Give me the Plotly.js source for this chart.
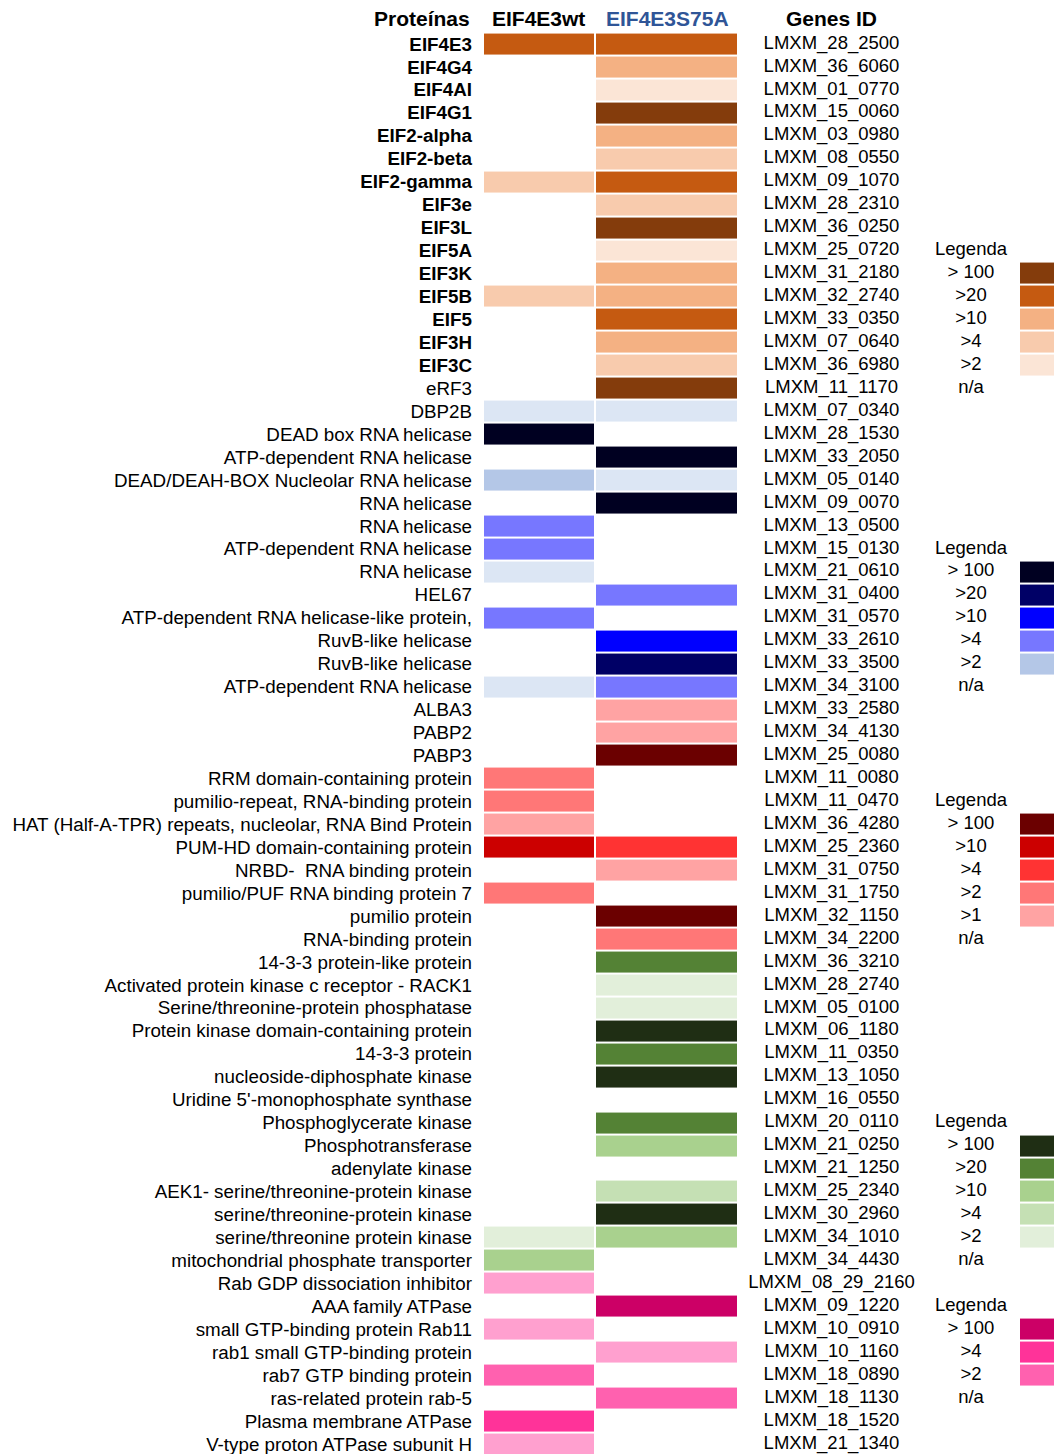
<!DOCTYPE html>
<html>
<head>
<meta charset="utf-8">
<script src="https://cdn.plot.ly/plotly-3.0.1.min.js"></script>
<style>
  html, body { margin: 0; padding: 0; background: #ffffff; }
  #chart { width: 1054px; height: 1454px; }
</style>
</head>
<body>
<div id="chart"></div>
<script>
// Protein names, one per row (top to bottom)
const proteins = [
  'EIF4E3', 'EIF4G4', 'EIF4AI', 'EIF4G1', 'EIF2-alpha', 'EIF2-beta', 'EIF2-gamma', 'EIF3e',
  'EIF3L', 'EIF5A', 'EIF3K', 'EIF5B', 'EIF5', 'EIF3H', 'EIF3C', 'eRF3',
  'DBP2B', 'DEAD box RNA helicase', 'ATP-dependent RNA helicase', 'DEAD/DEAH-BOX Nucleolar RNA helicase',
  'RNA helicase', 'RNA helicase', 'ATP-dependent RNA helicase', 'RNA helicase', 'HEL67',
  'ATP-dependent RNA helicase-like protein,', 'RuvB-like helicase', 'RuvB-like helicase', 'ATP-dependent RNA helicase',
  'ALBA3', 'PABP2', 'PABP3', 'RRM domain-containing protein', 'pumilio-repeat, RNA-binding protein',
  'HAT (Half-A-TPR) repeats, nucleolar, RNA Bind Protein', 'PUM-HD domain-containing protein',
  'NRBD-  RNA binding protein', 'pumilio/PUF RNA binding protein 7', 'pumilio protein', 'RNA-binding protein',
  '14-3-3 protein-like protein', 'Activated protein kinase c receptor - RACK1', 'Serine/threonine-protein phosphatase',
  'Protein kinase domain-containing protein', '14-3-3 protein', 'nucleoside-diphosphate kinase',
  "Uridine 5'-monophosphate synthase", 'Phosphoglycerate kinase', 'Phosphotransferase', 'adenylate kinase',
  'AEK1- serine/threonine-protein kinase', 'serine/threonine-protein kinase', 'serine/threonine protein kinase',
  'mitochondrial phosphate transporter', 'Rab GDP dissociation inhibitor', 'AAA family ATPase',
  'small GTP-binding protein Rab11', 'rab1 small GTP-binding protein', 'rab7 GTP binding protein',
  'ras-related protein rab-5', 'Plasma membrane ATPase', 'V-type proton ATPase subunit H'
];

// Translation factors are printed in bold
const boldProteins = [
  'EIF4E3', 'EIF4G4', 'EIF4AI', 'EIF4G1', 'EIF2-alpha', 'EIF2-beta', 'EIF2-gamma', 'EIF3e',
  'EIF3L', 'EIF5A', 'EIF3K', 'EIF5B', 'EIF5', 'EIF3H', 'EIF3C'
];

// Gene identifiers, one per row
const genes = [
  'LMXM_28_2500', 'LMXM_36_6060', 'LMXM_01_0770', 'LMXM_15_0060', 'LMXM_03_0980', 'LMXM_08_0550',
  'LMXM_09_1070', 'LMXM_28_2310', 'LMXM_36_0250', 'LMXM_25_0720', 'LMXM_31_2180', 'LMXM_32_2740',
  'LMXM_33_0350', 'LMXM_07_0640', 'LMXM_36_6980', 'LMXM_11_1170', 'LMXM_07_0340', 'LMXM_28_1530',
  'LMXM_33_2050', 'LMXM_05_0140', 'LMXM_09_0070', 'LMXM_13_0500', 'LMXM_15_0130', 'LMXM_21_0610',
  'LMXM_31_0400', 'LMXM_31_0570', 'LMXM_33_2610', 'LMXM_33_3500', 'LMXM_34_3100', 'LMXM_33_2580',
  'LMXM_34_4130', 'LMXM_25_0080', 'LMXM_11_0080', 'LMXM_11_0470', 'LMXM_36_4280', 'LMXM_25_2360',
  'LMXM_31_0750', 'LMXM_31_1750', 'LMXM_32_1150', 'LMXM_34_2200', 'LMXM_36_3210', 'LMXM_28_2740',
  'LMXM_05_0100', 'LMXM_06_1180', 'LMXM_11_0350', 'LMXM_13_1050', 'LMXM_16_0550', 'LMXM_20_0110',
  'LMXM_21_0250', 'LMXM_21_1250', 'LMXM_25_2340', 'LMXM_30_2960', 'LMXM_34_1010', 'LMXM_34_4430',
  'LMXM_08_29_2160', 'LMXM_09_1220', 'LMXM_10_0910', 'LMXM_10_1160', 'LMXM_18_0890', 'LMXM_18_1130',
  'LMXM_18_1520', 'LMXM_21_1340'
];

// Functional family of each row (selects the colour ramp)
const families = [
  'eif','eif','eif','eif','eif','eif','eif','eif','eif','eif','eif','eif','eif','eif','eif','eif',
  'hel','hel','hel','hel','hel','hel','hel','hel','hel','hel','hel','hel','hel',
  'rbp','rbp','rbp','rbp','rbp','rbp','rbp','rbp','rbp','rbp','rbp',
  'kin','kin','kin','kin','kin','kin','kin','kin','kin','kin','kin','kin','kin','kin',
  'gtp','gtp','gtp','gtp','gtp','gtp','gtp','gtp'
];

// Enrichment class in the EIF4E3wt pull-down (null = not detected)
const wtLevels = [
  '>20', null, null, null, null, null, '>4', null, null, null, null, '>4', null, null, null, null,
  '>1', '>100', null, '>2', null, '>4', '>4', '>1', null, '>4', null, null, '>1',
  null, null, null, '>2', '>2', '>1', '>10', null, '>2', null, null,
  null, null, null, null, null, null, null, null, null, null, null, null, '>2', '>10',
  '>1', null, '>1', null, '>2', null, '>4', '>1'
];

// Enrichment class in the EIF4E3S75A pull-down (null = not detected)
const s75aLevels = [
  '>20', '>10', '>2', '>100', '>10', '>4', '>20', '>4', '>100', '>2', '>10', '>10', '>20', '>10', '>4', '>100',
  '>1', null, '>100', '>1', '>100', null, null, null, '>4', null, '>10', '>20', '>4',
  '>1', '>1', '>100', null, null, null, '>4', '>1', null, '>100', '>2',
  '>20', '>2', '>2', '>100', '>20', '>100', null, '>20', '>10', null, '>4', '>100', '>10', null,
  null, '>100', null, '>1', null, '>2', null, null
];

// Colour ramps per family
const palettes = {
  eif: { '>100': '#843C0C', '>20': '#C55A11', '>10': '#F4B183', '>4': '#F8CBAD', '>2': '#FBE5D6' },
  hel: { '>100': '#000021', '>20': '#000066', '>10': '#0000FF', '>4': '#7777FF', '>2': '#B4C7E7', '>1': '#DCE6F4' },
  rbp: { '>100': '#6B0000', '>10': '#CC0000', '>4': '#FF3333', '>2': '#FF7777', '>1': '#FFA3A3' },
  kin: { '>100': '#1F2E14', '>20': '#548235', '>10': '#A9D18E', '>4': '#C5E0B4', '>2': '#E2EFDA' },
  gtp: { '>100': '#CC0066', '>4': '#FF3399', '>2': '#FF61AF', '>1': '#FFA0CF' }
};

// Legend classes shown for each family
const legendFamilies = ['eif', 'hel', 'rbp', 'kin', 'gtp'];
const legendClasses = [
  ['>100', '>20', '>10', '>4', '>2'],
  ['>100', '>20', '>10', '>4', '>2'],
  ['>100', '>10', '>4', '>2', '>1'],
  ['>100', '>20', '>10', '>4', '>2'],
  ['>100', '>4', '>2']
];
// Row where each "Legenda" heading sits
const legendStartRow = [9, 22, 33, 47, 55];

const columnTitles = ['EIF4E3wt', 'EIF4E3S75A'];

// ---- build the discrete colour mapping ----
const colorList = [];
function colorCode(c) {
  let i = colorList.indexOf(c);
  if (i < 0) { colorList.push(c); i = colorList.length - 1; }
  return i + 0.5;
}

const rowIdx = proteins.map((_, i) => i);

const cellZ = rowIdx.map(i => {
  const pal = palettes[families[i]];
  return [wtLevels[i], s75aLevels[i]].map(lv => lv ? colorCode(pal[lv]) : null);
});

const legendZ = rowIdx.map(() => [null]);
const legendText = rowIdx.map(() => '');
legendFamilies.forEach((fam, b) => {
  const start = legendStartRow[b];
  legendText[start] = 'Legenda';
  legendClasses[b].forEach((lv, k) => {
    legendZ[start + 1 + k] = [colorCode(palettes[fam][lv])];
    legendText[start + 1 + k] = lv === '>100' ? '> 100' : lv;
  });
  legendText[start + 1 + legendClasses[b].length] = 'n/a';
});

const N = colorList.length;
const colorscale = [];
colorList.forEach((c, i) => {
  colorscale.push([i / N, c]);
  colorscale.push([(i + 1) / N, c]);
});

const FONT = 'Liberation Sans, Arial, Helvetica, sans-serif';

const heatCommon = {
  type: 'heatmap',
  colorscale: colorscale,
  zmin: 0, zmax: N,
  showscale: false,
  xgap: 2, ygap: 2,
  hoverinfo: 'skip'
};

const traces = [
  Object.assign({}, heatCommon, { x: [0, 112, 255], y: rowIdx, z: cellZ }),
  Object.assign({}, heatCommon, { x: [537, 573], y: rowIdx, z: legendZ, xgap: 0 }),
  {
    type: 'scatter', mode: 'text', x: rowIdx.map(() => 348.5), y: rowIdx, text: genes,
    textposition: 'middle center', textfont: { family: FONT, size: 18.5, color: '#000' },
    cliponaxis: false, hoverinfo: 'skip'
  },
  {
    type: 'scatter', mode: 'text', x: rowIdx.map(() => 488), y: rowIdx, text: legendText,
    textposition: 'middle center', textfont: { family: FONT, size: 18.5, color: '#000' },
    cliponaxis: false, hoverinfo: 'skip'
  }
];

const headerY = -1.09;
const headerFont = { family: FONT, size: 21, color: '#000' };
const annotations = [
  { text: '<b>Proteínas</b>', xref: 'paper', x: -11 / 571, xanchor: 'right', font: headerFont },
  { text: '<b>' + columnTitles[0] + '</b>', x: 55, xanchor: 'center', font: headerFont },
  { text: '<b>' + columnTitles[1] + '</b>', x: 184, xanchor: 'center',
    font: Object.assign({}, headerFont, { color: '#2F5597' }) },
  { text: '<b>Genes ID</b>', x: 348.5, xanchor: 'center', font: headerFont }
].map(a => Object.assign({ xref: 'x', yref: 'y', y: headerY, yanchor: 'middle', showarrow: false }, a));

const rowStep = 22.95;
const layout = {
  width: 1054, height: 1454,
  margin: { l: 483, r: 0, t: 0, b: 0, pad: 0 },
  paper_bgcolor: '#ffffff', plot_bgcolor: '#ffffff',
  font: { family: FONT, color: '#000', size: 18.5 },
  showlegend: false,
  xaxis: {
    range: [0, 571], showgrid: false, zeroline: false, showline: false,
    showticklabels: false, ticks: '', fixedrange: true
  },
  yaxis: {
    range: [(1454 - 44) / rowStep, -44 / rowStep],
    tickmode: 'array', tickvals: rowIdx,
    ticktext: proteins.map(p => boldProteins.includes(p) ? '<b>' + p + '</b>' : p),
    tickfont: { family: FONT, size: 18.8, color: '#000' },
    ticks: '', ticklabelstandoff: 10, ticklabeloverflow: 'allow',
    showgrid: false, zeroline: false, showline: false, automargin: false, fixedrange: true
  },
  annotations: annotations
};

Plotly.newPlot('chart', traces, layout, { displayModeBar: false, staticPlot: true });
</script>
</body>
</html>
